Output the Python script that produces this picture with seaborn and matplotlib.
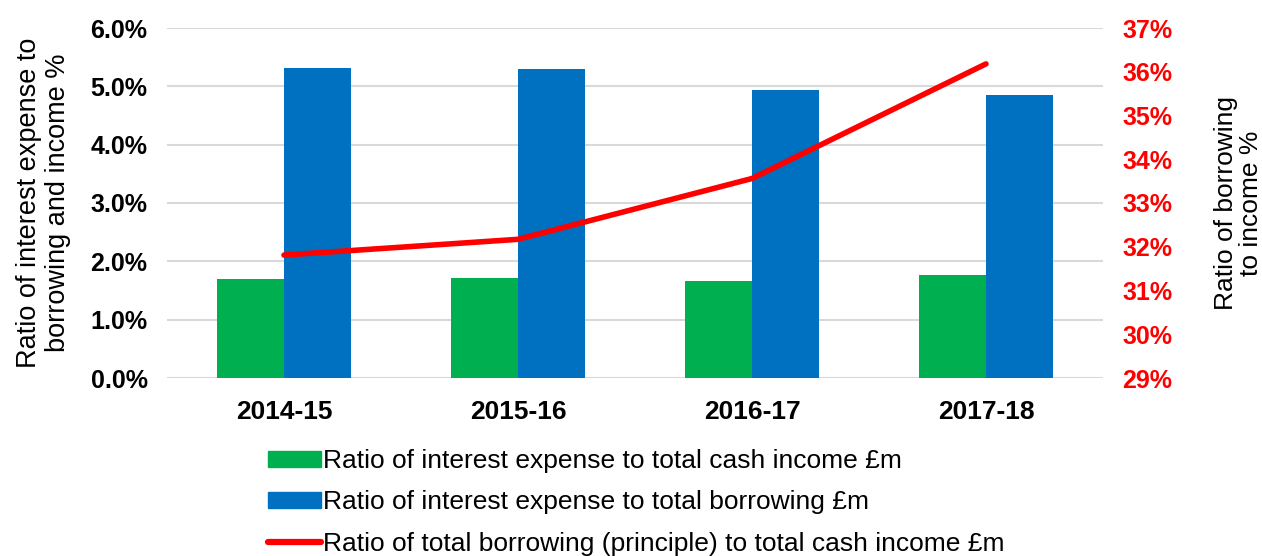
import matplotlib
matplotlib.use("Agg")
import matplotlib.pyplot as plt
import seaborn as sns
import pandas as pd
import numpy as np
from matplotlib.ticker import FuncFormatter, MultipleLocator
from matplotlib.patches import Patch
from matplotlib.lines import Line2D

years = ["2014-15", "2015-16", "2016-17", "2017-18"]
interest_to_income = [1.69, 1.71, 1.67, 1.76]
interest_to_borrowing = [5.31, 5.29, 4.94, 4.86]
borrowing_to_income = [31.81, 32.17, 33.56, 36.18]

lab_green = "Ratio of interest expense to total cash income £m"
lab_blue = "Ratio of interest expense to total borrowing £m"
lab_red = "Ratio of total borrowing (principle) to total cash income £m"

GREEN = "#00B050"
BLUE = "#0070C0"
RED = "#FF0000"

sns.set_theme(style="white")
plt.rcParams["font.family"] = ["Liberation Sans", "DejaVu Sans"]
plt.rcParams["text.color"] = "black"
plt.rcParams["axes.labelcolor"] = "black"
plt.rcParams["xtick.color"] = "black"
plt.rcParams["ytick.color"] = "black"

df = pd.DataFrame({
    "year": years * 2,
    "value": interest_to_income + interest_to_borrowing,
    "series": [lab_green] * 4 + [lab_blue] * 4,
})

fig = plt.figure(figsize=(12.62, 5.56), dpi=100)
ax = fig.add_axes([167 / 1262, 1 - 378 / 556, (1103 - 167) / 1262, 350 / 556])

sns.barplot(data=df, x="year", y="value", hue="series", order=years,
            hue_order=[lab_green, lab_blue], palette=[GREEN, BLUE],
            width=0.57, gap=0, saturation=1, linewidth=0, ax=ax, legend=False)

ax.set_xlim(-0.5, 3.5)
ax.set_ylim(0, 6)
ax.yaxis.set_major_locator(MultipleLocator(1))
ax.yaxis.set_major_formatter(FuncFormatter(lambda v, p: f"{v:.1f}%"))
ax.grid(axis="y", color="#D9D9D9", linewidth=1.5)
ax.set_axisbelow(True)
for s in ax.spines.values():
    s.set_visible(False)
ax.tick_params(axis="both", length=0)
ax.tick_params(axis="y", labelsize=18, pad=14)
ax.tick_params(axis="x", labelsize=19, pad=16)
for t in ax.get_yticklabels() + ax.get_xticklabels():
    t.set_fontweight("bold")
ax.set_xlabel("")
ax.set_ylabel("Ratio of interest expense to\nborrowing and income %", fontsize=19.5, labelpad=14,
              linespacing=1.15)

ax2 = ax.twinx()
sns.lineplot(x=np.arange(len(years)), y=borrowing_to_income, color=RED, linewidth=4,
             ax=ax2, legend=False)
ax2.set_xlim(-0.5, 3.5)
ax2.set_ylim(29, 37)
ax2.yaxis.set_major_locator(MultipleLocator(1))
ax2.yaxis.set_major_formatter(FuncFormatter(lambda v, p: f"{v:.0f}%"))
for s in ax2.spines.values():
    s.set_visible(False)
ax2.tick_params(axis="y", length=0, labelsize=18, pad=14, colors=RED)
for t in ax2.get_yticklabels():
    t.set_fontweight("bold")
ax2.set_ylabel("Ratio of borrowing\nto income %", fontsize=19, labelpad=30, linespacing=1.05)
ax2.grid(False)

handles = [Patch(facecolor=GREEN, edgecolor=GREEN), Patch(facecolor=BLUE, edgecolor=BLUE),
           Line2D([0], [0], color=RED, linewidth=4.5)]
fig.legend(handles, [lab_green, lab_blue, lab_red], loc="upper left",
           bbox_to_anchor=(268 / 1262, 1 - 449 / 556), frameon=False, fontsize=19,
           handlelength=2.0, handleheight=0.55, handletextpad=0.1, labelspacing=0.66,
           borderpad=0, borderaxespad=0)

fig.savefig("out.png", dpi=100)
